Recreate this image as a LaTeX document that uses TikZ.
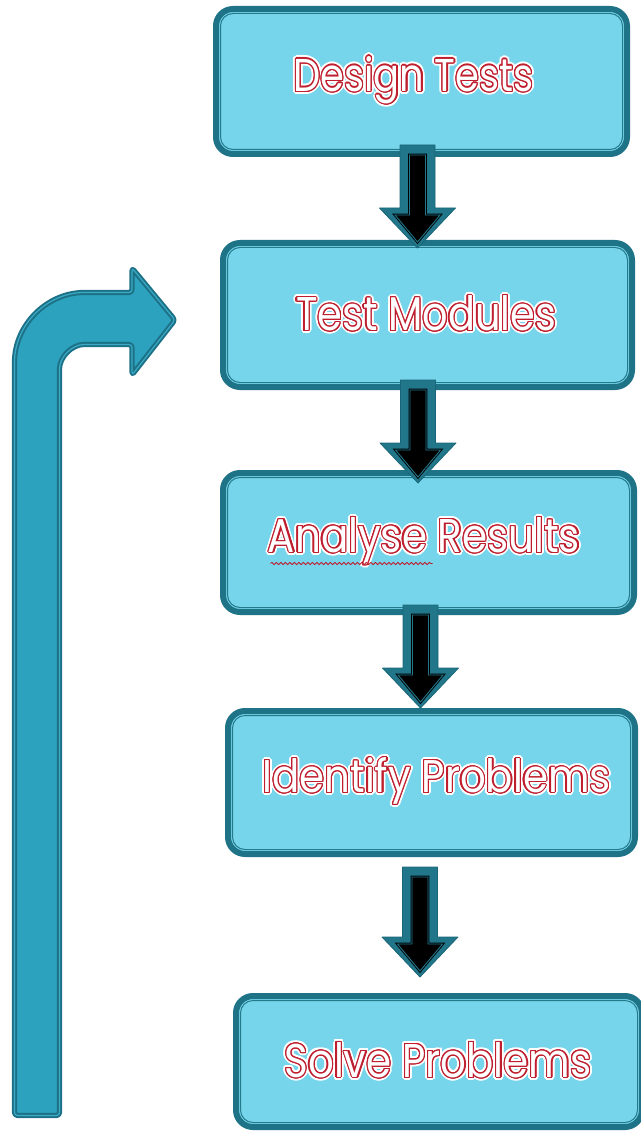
\documentclass[tikz,border=0pt]{standalone}
\usepackage{fontspec}
\setmainfont{Poppins}
\usepackage[copies]{contour}
\usetikzlibrary{calc,decorations.pathmorphing}

\definecolor{boxfill}{HTML}{76D5EA}
\definecolor{boxedge}{HTML}{1E7387}
\definecolor{boxline}{HTML}{24798D}
\definecolor{arrowteal}{HTML}{21768A}
\definecolor{arrowedge}{HTML}{1A6678}
\definecolor{loopfill}{HTML}{2CA2BE}
\definecolor{loopedge}{HTML}{1D7187}
\definecolor{loopline}{HTML}{3AAAC5}
\definecolor{labelred}{HTML}{BE1E2D}

% step label: white letters, red outline, white halo; #1 width, #2 horizontal shift
\newcommand\steptext[3]{%
  \kern#2\rlap{\contourlength{3.2pt}\contour{white}{\resizebox{#1}{35pt}{#3}}}%
  \contourlength{1.2pt}\contour{labelred}{\resizebox{#1}{35pt}{#3}}\kern-#2}

% block arrow pointing down from coordinate #1 to the height of coordinate #2
\newcommand\stepdownarrow[2]{%
  \filldraw[arrowbody] let \p1=(#1), \p2=(#2) in
    ({\x1-17.5pt},\y1) -- ({\x1+17.5pt},\y1) -- ({\x1+17.5pt},{\y2+40pt})
    -- ({\x1+38pt},{\y2+40pt}) -- (\x1,\y2) -- ({\x1-38pt},{\y2+40pt})
    -- ({\x1-17.5pt},{\y2+40pt}) -- cycle;
  \filldraw[arrowcore] let \p1=(#1), \p2=(#2) in
    ({\x1-8pt},{\y1-10pt}) -- ({\x1+8pt},{\y1-10pt}) -- ({\x1+8pt},{\y2+33pt})
    -- ({\x1+22.5pt},{\y2+33pt}) -- (\x1,{\y2+6pt}) -- ({\x1-22.5pt},{\y2+33pt})
    -- ({\x1-8pt},{\y2+33pt}) -- cycle;
}

\begin{document}
\begin{tikzpicture}[x=1pt,y=-1pt,
  stepbox/.style={rectangle, rounded corners=17pt, fill=boxfill, draw=boxedge,
    line width=6pt, inner sep=0pt, outer sep=0pt, text=white},
  innerline/.style={draw=boxline, line width=1pt, rounded corners=12.5pt},
  arrowbody/.style={fill=arrowteal, draw=arrowedge, line width=0.8pt, line join=round},
  arrowcore/.style={fill=black, draw=black, double=arrowteal, line width=0.9pt,
    double distance=0.9pt, line join=miter},
  looparrow/.style={fill=loopfill, draw=loopedge, double=loopline, line width=2pt,
    double distance=1.2pt, line join=round, rounded corners=3pt},
  squiggle/.style={draw=labelred, line width=0.8pt, decorate,
    decoration={snake, amplitude=1.1pt, segment length=4.5pt}}]

\useasboundingbox (0,0) rectangle (640,1139);

% the five steps
\node[stepbox, minimum width=411pt, minimum height=145pt] (b1) at (421.5,81.5)
  {\steptext{240pt}{-8pt}{Design Tests}};
\node[stepbox, minimum width=409pt, minimum height=144pt] (b2) at (427.5,315)
  {\steptext{260pt}{-1.5pt}{Test Modules}};
\node[stepbox, minimum width=411pt, minimum height=139pt] (b3) at (428.5,542.5)
  {\steptext{312pt}{-4.5pt}{Analyse Results}};
\node[stepbox, minimum width=407pt, minimum height=143pt] (b4) at (431.5,782.5)
  {\steptext{348pt}{5pt}{Identify Problems}};
\node[stepbox, minimum width=406pt, minimum height=131pt] (b5) at (439,1061.5)
  {\steptext{307pt}{-1pt}{Solve Problems}};

% inner rim of each box
\foreach \n in {b1,b2,b3,b4,b5}
  \draw[innerline] ([shift={(4.5pt,-4.5pt)}]\n.north west)
    rectangle ([shift={(-4.5pt,4.5pt)}]\n.south east);

% red wavy underline below the first word of step three
\draw[squiggle] ($(b3.center)+(-158,21)$) -- ($(b3.center)+(4,21)$);

% ends of the down arrows between the steps
\coordinate (a1s) at ($(b1.south)+(-4,-9)$);
\coordinate (a1e) at ($(b2.north)+(-10,5)$);
\coordinate (a2s) at ($(b2.south)+(-9.5,-7)$);
\coordinate (a2e) at ($(b3.north)+(-10,10)$);
\coordinate (a3s) at ($(b3.south)+(-8,-7)$);
\coordinate (a3e) at ($(b4.north)+(-10,-3)$);
\coordinate (a4s) at ($(b4.south)+(-11.5,13)$);
\coordinate (a4e) at ($(b5.north)+(-19,-19)$);

\stepdownarrow{a1s}{a1e}
\stepdownarrow{a2s}{a2e}
\stepdownarrow{a3s}{a3e}
\stepdownarrow{a4s}{a4e}

% loop-back arrow on the left, pointing at the second step
\filldraw[looparrow]
  (14.5,1115.5) -- (14.5,365)
  .. controls (14.5,325) and (47,292.5) .. (87,292.5)
  -- (132,292.5) -- (132,268) -- (175,320) -- (132,375) -- (132,344.5)
  -- (87,344.5) .. controls (72,344.5) and (59.5,357) .. (59.5,372)
  -- (59.5,1115.5) -- cycle;
\end{tikzpicture}
\end{document}
